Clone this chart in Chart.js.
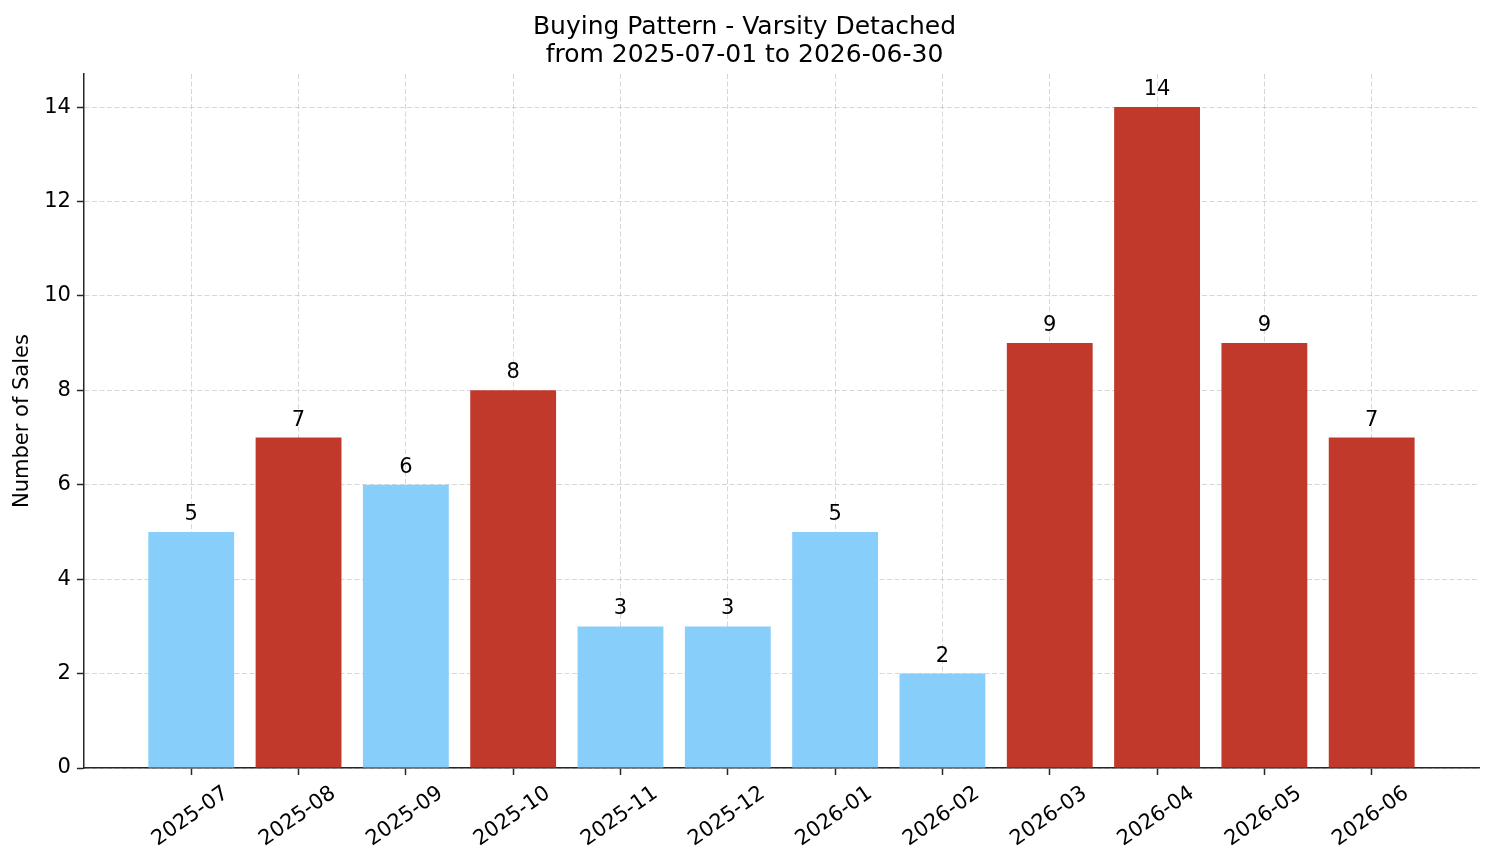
<!DOCTYPE html>
<html>
<head>
<meta charset="utf-8">
<title>Buying Pattern - Varsity Detached</title>
<script src="https://cdn.jsdelivr.net/npm/chart.js@4.4.1/dist/chart.umd.min.js"></script>
<style>
    html, body { margin: 0; padding: 0; background: #fff; }
    #wrap { width: 1494px; height: 863px; }
</style>
</head>
<body>
<div id="wrap"><canvas id="chart" width="1494" height="863"></canvas></div>
<script>
// Monthly sales counts
const months = ['2025-07', '2025-08', '2025-09', '2025-10', '2025-11', '2025-12',
                '2026-01', '2026-02', '2026-03', '2026-04', '2026-05', '2026-06'];
const sales = [5, 7, 6, 8, 3, 3, 5, 2, 9, 14, 9, 7];
const yTicks = [0, 2, 4, 6, 8, 10, 12, 14];
const titleLines = ['Buying Pattern - Varsity Detached', 'from 2025-07-01 to 2026-06-30'];

const FONT = '"DejaVu Sans", sans-serif';
const RED = '#c0392b';
const BLUE = '#87cefa';
const GRID = 'rgba(176, 176, 176, 0.5)';
const TEXT_SIZE = 21;

// bars above the average month are red
const avg = sales.reduce((a, b) => a + b, 0) / sales.length;
const colors = sales.map(v => v > avg ? RED : BLUE);

// Value labels over each bar
const valueLabels = {
    id: 'valueLabels',
    afterDraw(chart) {
        const ctx = chart.ctx;
        const meta = chart.getDatasetMeta(0);
        ctx.save();
        ctx.font = TEXT_SIZE + 'px ' + FONT;
        ctx.fillStyle = '#000';
        ctx.textAlign = 'center';
        ctx.textBaseline = 'alphabetic';
        meta.data.forEach((bar, i) => {
            ctx.fillText(String(sales[i]), bar.x, bar.y - 12);
        });
        ctx.restore();
    }
};

new Chart(document.getElementById('chart'), {
    type: 'bar',
    data: {
        datasets: [{
            data: sales.map((v, i) => ({ x: i, y: v })),
            backgroundColor: colors,
            borderWidth: 0,
            barPercentage: 0.8,
            categoryPercentage: 1.0
        }]
    },
    options: {
        responsive: false,
        animation: false,
        layout: { padding: { left: 10, right: 15, top: 4, bottom: 5 } },
        plugins: {
            legend: { display: false },
            tooltip: { enabled: false },
            title: {
                display: true,
                text: titleLines,
                color: '#000',
                font: { family: FONT, size: 25, weight: 'normal', lineHeight: 1.12 },
                padding: { top: 9, bottom: 5 }
            }
        },
        scales: {
            x: {
                type: 'linear',
                min: -1,
                max: 12,
                offset: false,
                z: 1,
                afterBuildTicks: (scale) => {
                    scale.ticks = months.map((m, i) => ({ value: i }));
                },
                ticks: {
                    color: '#000',
                    font: { family: FONT, size: TEXT_SIZE },
                    minRotation: 35,
                    maxRotation: 35,
                    padding: 6,
                    labelOffset: 35,
                    callback: (v) => months[v] ?? ''
                },
                grid: {
                    offset: false,
                    color: GRID,
                    lineWidth: 1,
                    drawTicks: true,
                    tickLength: 7,
                    tickColor: '#262626',
                    tickWidth: 1.5
                },
                border: { display: true, color: '#262626', width: 1.5, dash: [5, 2.5] }
            },
            y: {
                min: 0,
                max: 14.7,
                z: 1,
                afterBuildTicks: (scale) => {
                    scale.ticks = yTicks.map(v => ({ value: v }));
                },
                ticks: {
                    color: '#000',
                    font: { family: FONT, size: TEXT_SIZE },
                    padding: 6
                },
                grid: {
                    color: GRID,
                    lineWidth: 1,
                    drawTicks: true,
                    tickLength: 7,
                    tickColor: '#262626',
                    tickWidth: 1.5
                },
                border: { display: true, color: '#262626', width: 1.5, dash: [5, 2.5] },
                title: {
                    display: true,
                    text: 'Number of Sales',
                    color: '#000',
                    font: { family: FONT, size: TEXT_SIZE },
                    padding: { top: 0, bottom: 3 }
                }
            }
        }
    },
    plugins: [valueLabels]
});
</script>
</body>
</html>
